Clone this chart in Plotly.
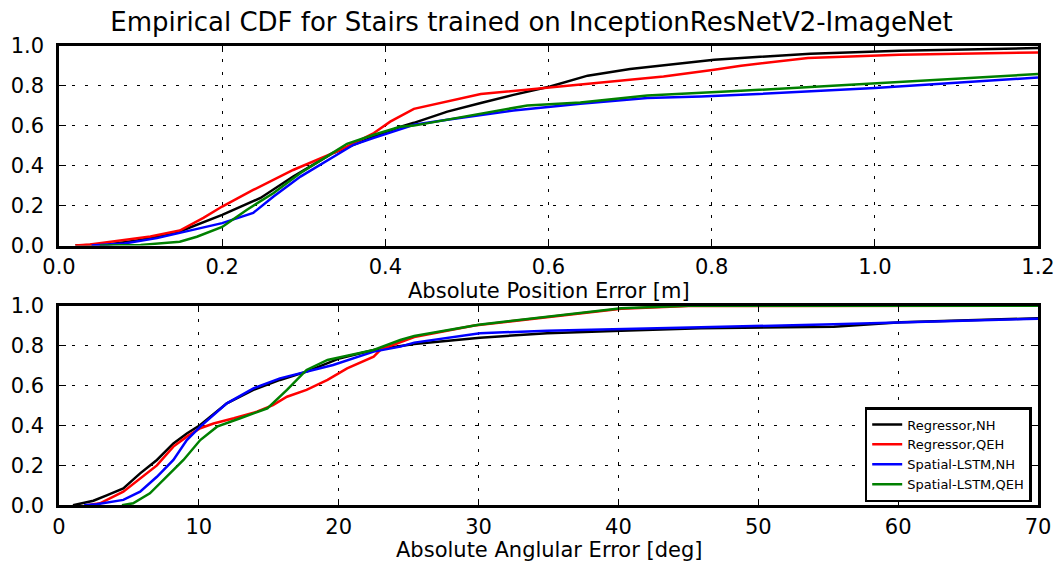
import plotly.graph_objects as go
from plotly.subplots import make_subplots

# Empirical CDF samples: absolute position error [m]
pos_reg_nh_x = [0.02, 0.06, 0.10, 0.148, 0.20, 0.247, 0.287, 0.336, 0.386, 0.418, 0.435, 0.476, 0.517, 0.557, 0.602, 0.648, 0.70, 0.762, 0.803, 0.921, 1.03, 1.2]
pos_reg_nh_y = [0.0, 0.005, 0.028, 0.07, 0.153, 0.238, 0.345, 0.463, 0.545, 0.594, 0.614, 0.67, 0.713, 0.754, 0.796, 0.85, 0.883, 0.91, 0.93, 0.96, 0.975, 0.988]

pos_reg_qeh_x = [0.02, 0.038, 0.112, 0.148, 0.177, 0.20, 0.238, 0.287, 0.345, 0.386, 0.406, 0.435, 0.517, 0.598, 0.68, 0.741, 0.803, 0.836, 0.918, 1.03, 1.2]
pos_reg_qeh_y = [0.0, 0.005, 0.045, 0.075, 0.138, 0.195, 0.278, 0.378, 0.479, 0.563, 0.62, 0.684, 0.758, 0.79, 0.82, 0.846, 0.88, 0.9, 0.938, 0.955, 0.966]

pos_lstm_nh_x = [0.04, 0.08, 0.12, 0.148, 0.20, 0.238, 0.263, 0.296, 0.336, 0.361, 0.386, 0.418, 0.435, 0.476, 0.557, 0.639, 0.721, 0.787, 0.836, 1.0, 1.2]
pos_lstm_nh_y = [0.0, 0.01, 0.037, 0.064, 0.112, 0.163, 0.245, 0.345, 0.445, 0.504, 0.539, 0.579, 0.604, 0.629, 0.676, 0.709, 0.738, 0.746, 0.754, 0.788, 0.841]

pos_lstm_qeh_x = [0.05, 0.10, 0.148, 0.169, 0.20, 0.23, 0.263, 0.296, 0.328, 0.353, 0.386, 0.418, 0.435, 0.476, 0.574, 0.639, 0.721, 0.836, 1.0, 1.2]
pos_lstm_qeh_y = [0.0, 0.003, 0.019, 0.044, 0.093, 0.178, 0.263, 0.363, 0.445, 0.509, 0.554, 0.594, 0.60, 0.63, 0.701, 0.716, 0.751, 0.774, 0.813, 0.858]

# Empirical CDF samples: absolute angular error [deg]
ang_reg_nh_x = [1.0, 2.46, 3.41, 4.6, 5.8, 7.0, 8.18, 9.14, 10.1, 12.0, 13.9, 15.8, 17.7, 20.1, 22.5, 25.4, 30.1, 34.9, 40.2, 45.9, 55.4, 60.2, 70.0]
ang_reg_nh_y = [0.0, 0.023, 0.05, 0.085, 0.16, 0.227, 0.31, 0.36, 0.402, 0.511, 0.578, 0.628, 0.67, 0.737, 0.778, 0.808, 0.84, 0.862, 0.875, 0.887, 0.895, 0.917, 0.937]

ang_reg_qeh_x = [2.0, 2.93, 4.6, 5.8, 7.0, 8.18, 9.14, 10.1, 11.05, 12.5, 14.15, 15.3, 16.3, 17.7, 19.2, 20.6, 22.5, 23.0, 25.4, 29.7, 34.9, 40.2, 45.0, 70.0]
ang_reg_qeh_y = [0.0, 0.01, 0.068, 0.135, 0.2, 0.294, 0.344, 0.386, 0.41, 0.436, 0.469, 0.502, 0.544, 0.578, 0.628, 0.686, 0.745, 0.78, 0.843, 0.901, 0.944, 0.985, 0.998, 1.0]

ang_lstm_nh_x = [1.8, 2.7, 4.6, 5.8, 7.0, 8.18, 9.14, 10.1, 12.0, 13.9, 15.8, 17.7, 19.6, 22.5, 24.4, 25.4, 30.1, 34.9, 40.2, 45.9, 55.4, 60.2, 70.0]
ang_lstm_nh_y = [0.0, 0.005, 0.027, 0.068, 0.143, 0.227, 0.327, 0.394, 0.511, 0.586, 0.636, 0.67, 0.703, 0.77, 0.795, 0.815, 0.862, 0.875, 0.882, 0.892, 0.907, 0.917, 0.935]

ang_lstm_qeh_x = [4.5, 5.3, 6.5, 7.7, 8.9, 10.1, 11.3, 12.96, 14.9, 16.3, 17.7, 19.2, 20.6, 22.5, 24.4, 25.4, 30.0, 35.0, 40.2, 45.0, 70.0]
ang_lstm_qeh_y = [0.0, 0.01, 0.06, 0.143, 0.227, 0.327, 0.394, 0.436, 0.486, 0.578, 0.678, 0.728, 0.748, 0.778, 0.828, 0.848, 0.905, 0.945, 0.987, 1.0, 1.0]

series_names = ["Regressor,NH", "Regressor,QEH", "Spatial-LSTM,NH", "Spatial-LSTM,QEH"]
series_colors = ["#000000", "#ff0000", "#0000ff", "#008000"]

pos_series = [(pos_reg_nh_x, pos_reg_nh_y), (pos_reg_qeh_x, pos_reg_qeh_y),
              (pos_lstm_nh_x, pos_lstm_nh_y), (pos_lstm_qeh_x, pos_lstm_qeh_y)]
ang_series = [(ang_reg_nh_x, ang_reg_nh_y), (ang_reg_qeh_x, ang_reg_qeh_y),
              (ang_lstm_nh_x, ang_lstm_nh_y), (ang_lstm_qeh_x, ang_lstm_qeh_y)]

pos_ticks = [0.0, 0.2, 0.4, 0.6, 0.8, 1.0, 1.2]
ang_ticks = [0, 10, 20, 30, 40, 50, 60, 70]
cdf_ticks = [0.0, 0.2, 0.4, 0.6, 0.8, 1.0]

W, H = 1063, 567
fig = make_subplots(rows=2, cols=1)

for (xs, ys), name, color in zip(pos_series, series_names, series_colors):
    fig.add_trace(go.Scatter(x=xs, y=ys, mode="lines", name=name, showlegend=False,
                             line=dict(color=color, width=2.5)), row=1, col=1)
for (xs, ys), name, color in zip(ang_series, series_names, series_colors):
    fig.add_trace(go.Scatter(x=xs, y=ys, mode="lines", name=name, showlegend=True,
                             line=dict(color=color, width=2.5)), row=2, col=1)

font = "DejaVu Sans"
axis_common = dict(
    automargin=False,
    showline=True, linecolor="black", linewidth=2.5, mirror="ticks",
    ticks="inside", ticklen=7, tickwidth=1.2, tickcolor="black",
    showgrid=True, gridcolor="black", gridwidth=1, griddash="3px,10px",
    zeroline=False, tickfont=dict(family=font, size=21, color="black"),
)

fig.update_xaxes(axis_common, ticklabelstandoff=1)
fig.update_yaxes(axis_common, ticklabelstandoff=8)

fig.update_xaxes(range=[0, 1.2], tickvals=pos_ticks, ticktext=[f"{v:.1f}" for v in pos_ticks], row=1, col=1)
fig.update_xaxes(range=[0, 70], tickvals=ang_ticks, ticktext=[str(v) for v in ang_ticks], row=2, col=1)
fig.update_yaxes(range=[0, 1], tickvals=cdf_ticks, ticktext=[f"{v:.1f}" for v in cdf_ticks])

L, R = 59, 1038
fig.update_layout(
    template="none",
    width=W, height=H,
    margin=dict(l=L, r=W - R, t=0, b=0, autoexpand=False),
    paper_bgcolor="white", plot_bgcolor="white",
    font=dict(family=font, color="black"),
    xaxis=dict(domain=[0, 1]),
    xaxis2=dict(domain=[0, 1]),
    yaxis=dict(domain=[1 - 245.5 / H, 1 - 45.7 / H]),
    yaxis2=dict(domain=[1 - 505.3 / H, 1 - 305.7 / H]),
    title=dict(text="Empirical CDF for Stairs trained on InceptionResNetV2-ImageNet",
               x=0.5, xanchor="center", y=1 - 22 / H, yanchor="middle",
               font=dict(family=font, size=26, color="black")),
    legend=dict(x=1 - (R - 1031.7) / (R - L), xanchor="right",
                y=1 - 502 / H, yanchor="bottom",
                bgcolor="white", bordercolor="black", borderwidth=2.5,
                font=dict(family=font, size=13, color="black"),
                tracegroupgap=0, itemwidth=30),
    showlegend=True,
    hovermode=False,
)

fig.add_annotation(text="Absolute Position Error [m]", xref="paper", yref="paper",
                   x=0.5, y=1 - 291 / H, xanchor="center", yanchor="middle",
                   showarrow=False, font=dict(family=font, size=21, color="black"))
fig.add_annotation(text="Absolute Anglular Error [deg]", xref="paper", yref="paper",
                   x=0.5, y=1 - 550 / H, xanchor="center", yanchor="middle",
                   showarrow=False, font=dict(family=font, size=21, color="black"))

fig.write_html("out.html")
